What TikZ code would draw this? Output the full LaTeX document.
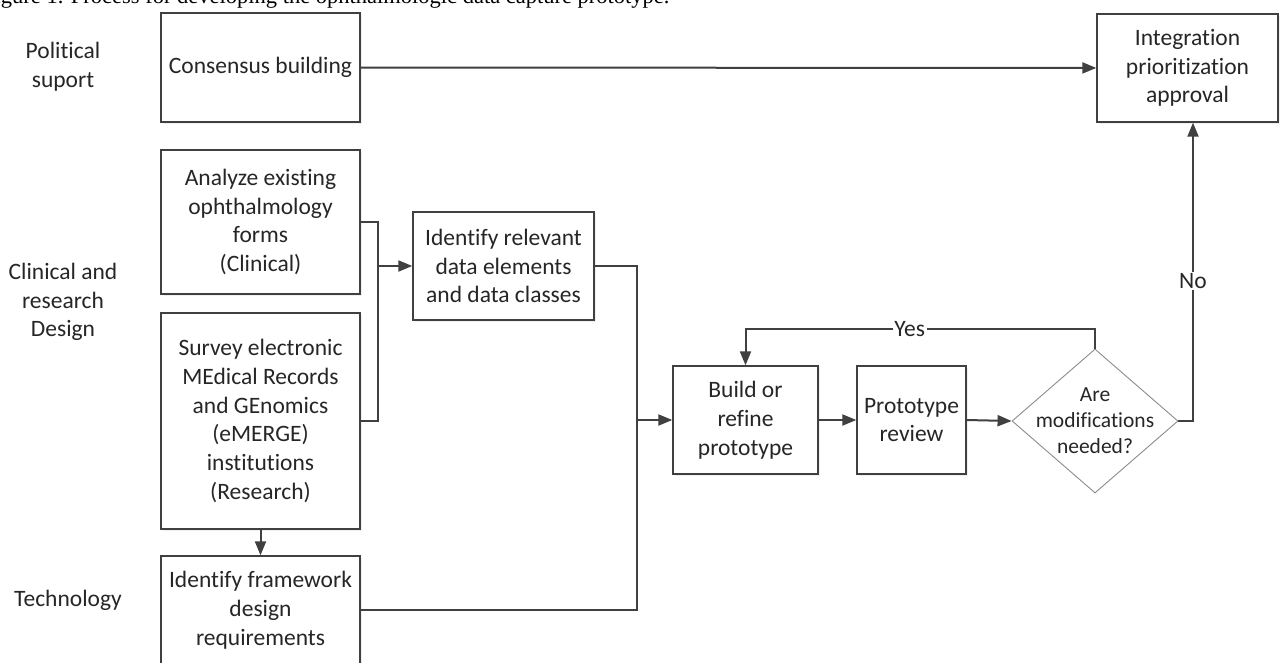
\documentclass[tikz,border=0pt]{standalone}
\usepackage{fontspec}
\setmainfont{Carlito}[Ligatures={NoCommon}, RawFeature={-liga;-clig;-dlig}]
\newfontfamily\capfont{Liberation Serif}
\usetikzlibrary{arrows.meta,shapes.geometric,shadows}
\definecolor{linegray}{HTML}{404040}
\definecolor{textgray}{HTML}{262626}
\begin{document}
\begin{tikzpicture}[x=1pt, y=-1pt,
    font=\fontsize{23.5}{28.8}\selectfont, text=textgray,
    stepbox/.style={draw=linegray, line width=1.4pt, fill=white, align=center,
      inner sep=0pt, drop shadow={shadow xshift=1.5pt, shadow yshift=-1.5pt, fill=black!12}},
    decision/.style={diamond, draw=black!45, line width=0.9pt, fill=white, inner sep=0pt,
      minimum width=166pt, minimum height=144pt, aspect=1.15},
    lane/.style={align=center},
    link/.style={draw=linegray, line width=2pt},
    arr/.style={link, -{Triangle[length=14pt, width=11pt]}},
    tag/.style={fill=white, inner sep=1.5pt}]
      \useasboundingbox (0, 0) rectangle (1281, 662);
      \clip (0, 0) rectangle (1281, 662);
      \fill[white] (0, 0) rectangle (1281, 662);
      % caption, cut off at the top
      \node[anchor=base west, font=\capfont\fontsize{22.5}{24}\selectfont, text=black, inner sep=0pt]
        (caption) at (-18, 3.5) {Figure 1. Process for developing the ophthalmologic data capture prototype.};
      % lanes
      \node[lane] (political) at (63, 67) {Political\\suport};
      \node[lane] (clinical) at (63, 302) {Clinical and\\research\\Design};
      \node[lane] (technology) at (68, 600) {Technology};
      % boxes
      \node[stepbox, minimum width=199pt, minimum height=109pt] (cons) at (260.5, 67.5) {Consensus building};
      \node[stepbox, minimum width=199pt, minimum height=144pt] (anal) at (260.5, 222) {Analyze existing\\ophthalmology\\forms\\(Clinical)};
      \node[stepbox, minimum width=199pt, minimum height=216pt] (surv) at (260.5, 421) {Survey electronic\\MEdical Records\\and GEnomics\\(eMERGE)\\institutions\\(Research)};
      \node[stepbox, minimum width=199pt, minimum height=108pt] (frame) at (260.5, 610) {Identify framework\\design\\requirements};
      \node[stepbox, minimum width=181pt, minimum height=108pt] (rel) at (503.5, 266) {Identify relevant\\data elements\\and data classes};
      \node[stepbox, minimum width=145pt, minimum height=108pt] (build) at (745.5, 420) {Build or\\refine\\prototype};
      \node[stepbox, minimum width=109pt, minimum height=108pt] (review) at (911.5, 420) {Prototype\\review};
      \node[decision, label={[align=center, font=\fontsize{21.5}{26}\selectfont]center:Are\\modifications\\needed?}] (dec) at (1095, 421) {};
      \node[stepbox, minimum width=181pt, minimum height=108pt] (integ) at (1187.5, 68) {Integration\\prioritization\\approval};
      % joints
      \coordinate (join) at (378, 266);
      \coordinate (merge) at (637, 420);
      \coordinate (nocorner) at (1193, 421);
      % lines
      \draw[arr] (cons) -- (integ);
      \draw[link] (anal.east) -| (join) |- (surv.east);
      \draw[arr] (join) -- (rel.west);
      \draw[arr] (surv.south) -- (frame.north);
      \draw[link] (rel.east) -| (merge) |- (frame.east);
      \draw[arr] (merge) -- (build.west);
      \draw[arr] (build) -- (review);
      \draw[arr] (review.east) -- (dec.west);
      \draw[arr] (dec.north) -- ++(0, -20) -| node[tag, pos=0.265] {Yes} (build.north);
      \draw[arr] (dec.east) -- (nocorner) -- (nocorner |- integ.south) node[tag, pos=0.47] {No};
    \end{tikzpicture}
\end{document}
